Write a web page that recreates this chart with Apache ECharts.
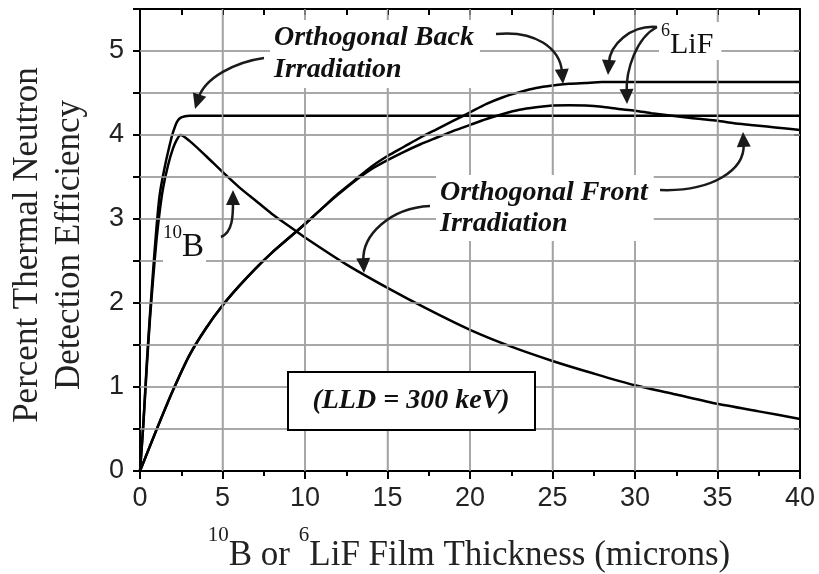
<!DOCTYPE html>
<html>
<head>
<meta charset="utf-8">
<script src="https://cdn.jsdelivr.net/npm/echarts@6/dist/echarts.min.js"></script>
<style>html,body{margin:0;padding:0;background:#fff}#c{width:819px;height:574px;background:#fff}</style>
</head>
<body>
<div id="c"></div>
<script>
// ---- data ----
const xTickLabels = [0, 5, 10, 15, 20, 25, 30, 35, 40];
const yTickLabels = [0, 1, 2, 3, 4, 5];
const xGridValues = [5, 10, 15, 20, 25, 30, 35];
const yGridValues = [0.5, 1, 1.5, 2, 2.5, 3, 3.5, 4, 4.5, 5];

// 10B, orthogonal back irradiation
const bBackX = [0, 0.2, 0.4, 0.6, 0.8, 1.0, 1.2, 1.5, 1.8, 2.0, 2.25, 2.5, 3, 5, 10, 20, 30, 40];
const bBackY = [0, 0.55, 1.25, 1.85, 2.4, 2.9, 3.3, 3.62, 3.88, 4.03, 4.16, 4.21, 4.23, 4.23, 4.23, 4.23, 4.23, 4.23];

// 10B, orthogonal front irradiation
const bFrontX = [0, 0.2, 0.4, 0.6, 0.8, 1.0, 1.2, 1.4, 1.7, 2.0, 2.25, 2.45, 3, 4, 5, 6, 7, 8, 9, 10, 12.5, 15, 17.5, 20, 22.5, 25, 27.5, 30, 32.5, 35, 37.5, 40];
const bFrontY = [0, 0.55, 1.2, 1.8, 2.3, 2.75, 3.1, 3.37, 3.64, 3.84, 3.95, 4.0, 3.93, 3.75, 3.56, 3.38, 3.22, 3.06, 2.92, 2.78, 2.46, 2.18, 1.92, 1.68, 1.48, 1.31, 1.16, 1.02, 0.91, 0.80, 0.71, 0.62];

// 6LiF, orthogonal back irradiation
const liBackX = [0, 1, 2, 3, 4, 5, 6, 7, 8, 9, 10, 11, 12, 13, 14, 15, 16, 17, 18, 19, 20, 21, 22, 23, 24, 25, 26, 27, 28, 29, 30, 35, 40];
const liBackY = [0, 0.49, 0.96, 1.38, 1.70, 1.97, 2.2, 2.41, 2.6, 2.77, 2.94, 3.12, 3.3, 3.46, 3.62, 3.75, 3.86, 3.97, 4.07, 4.17, 4.27, 4.37, 4.45, 4.51, 4.56, 4.59, 4.61, 4.62, 4.63, 4.63, 4.63, 4.63, 4.63];

// 6LiF, orthogonal front irradiation
const liFrontX = [0, 1, 2, 3, 4, 5, 6, 7, 8, 9, 10, 11, 12, 13, 14, 15, 16, 17, 18, 19, 20, 21, 22, 23, 24, 25, 26, 27, 28, 29, 30, 31, 32, 33, 34, 35, 36, 37, 38, 39, 40];
const liFrontY = [0, 0.49, 0.96, 1.38, 1.70, 1.97, 2.2, 2.41, 2.6, 2.77, 2.94, 3.12, 3.29, 3.45, 3.59, 3.7, 3.8, 3.89, 3.97, 4.05, 4.12, 4.19, 4.25, 4.3, 4.33, 4.35, 4.355, 4.35, 4.335, 4.31, 4.29, 4.26, 4.235, 4.21, 4.19, 4.17, 4.14, 4.12, 4.1, 4.08, 4.06];

const pairs = (xs, ys) => xs.map((x, i) => [x, ys[i]]);

// ---- chart ----
const chart = echarts.init(document.getElementById('c'));
const GRID = {left: 140, right: 19, top: 9, bottom: 103};
const X_MIN = 0, X_MAX = 40, Y_MIN = 0, Y_MAX = 5.5;
const gridGray = '#a3a3a3';
const ink = '#1a1a1a';
const serif = '"Liberation Serif", "DejaVu Serif", serif';
const sans = '"Liberation Sans", Arial, sans-serif';

function lineSeries(data) {
  return {
    type: 'line', data: data, showSymbol: false, symbol: 'none', smooth: 0.25,
    xAxisIndex: 0, yAxisIndex: 0,
    lineStyle: {color: '#000', width: 2.5}, silent: true, z: 3
  };
}

function arrow(p0, c1, c2, p3) {
  const dx = p3[0] - c2[0], dy = p3[1] - c2[1];
  const L = Math.hypot(dx, dy) || 1;
  const ux = dx / L, uy = dy / L;
  const hl = 15, hw = 7;
  const bx = p3[0] - ux * hl, by = p3[1] - uy * hl;
  return [
    {type: 'bezierCurve', z: 10, silent: true,
     shape: {x1: p0[0], y1: p0[1], cpx1: c1[0], cpy1: c1[1], cpx2: c2[0], cpy2: c2[1], x2: bx + ux * 3, y2: by + uy * 3},
     style: {stroke: ink, lineWidth: 2.5, fill: 'none'}},
    {type: 'polygon', z: 10, silent: true,
     shape: {points: [[p3[0], p3[1]], [bx - uy * hw, by + ux * hw], [bx + uy * hw, by - ux * hw]]},
     style: {fill: ink}}
  ];
}

const annFont = {fontFamily: serif, fontStyle: 'italic', fontWeight: 'bold', fontSize: 28};

const graphics = [
  {type: 'text', x: 49, y: 245, rotation: Math.PI / 2, z: 10, silent: true,
   style: {text: 'Percent Thermal Neutron\nDetection Efficiency', fontFamily: serif, fontSize: 35,
           fill: '#222', textAlign: 'center', textVerticalAlign: 'middle', lineHeight: 42}},
  {type: 'text', x: 469, y: 549, z: 10, silent: true,
   style: {text: '{s|10}{n|B or }{s|6}{n|LiF Film Thickness (microns)}', fill: '#222',
           textAlign: 'center', textVerticalAlign: 'middle',
           rich: {
             s: {fontFamily: serif, fontSize: 21, lineHeight: 21, verticalAlign: 'top', fill: '#222'},
             n: {fontFamily: serif, fontSize: 35, lineHeight: 48, verticalAlign: 'bottom', fill: '#222'}
           }}},
  {type: 'text', x: 270, y: 20, z: 9, silent: true,
   style: Object.assign({text: 'Orthogonal Back\nIrradiation', fill: '#111', lineHeight: 32,
           backgroundColor: '#fff', padding: [2, 6, 2, 4]}, annFont)},
  {type: 'text', x: 436, y: 175, z: 9, silent: true,
   style: Object.assign({text: 'Orthogonal Front\nIrradiation', fill: '#111', lineHeight: 31,
           backgroundColor: '#fff', padding: [2, 6, 2, 4]}, annFont)},
  {type: 'text', x: 659, y: 22, z: 9, silent: true,
   style: {text: '{s|6}{n|LiF}', backgroundColor: '#fff', padding: [0, 8, 0, 2],
           rich: {
             s: {fontFamily: serif, fontSize: 18, lineHeight: 18, verticalAlign: 'top', fill: '#111'},
             n: {fontFamily: serif, fontSize: 30, lineHeight: 38, verticalAlign: 'bottom', fill: '#111'}
           }}},
  {type: 'text', x: 163, y: 224, z: 9, silent: true,
   style: {text: '{s|10}{n|B}', backgroundColor: '#fff', padding: [0, 2, 0, 0],
           rich: {
             s: {fontFamily: serif, fontSize: 19, lineHeight: 19, verticalAlign: 'top', fill: '#111'},
             n: {fontFamily: serif, fontSize: 33, lineHeight: 40, verticalAlign: 'bottom', fill: '#111'}
           }}},
  {type: 'rect', z: 9, silent: true, shape: {x: 288, y: 372, width: 247, height: 58},
   style: {fill: '#fff', stroke: '#000', lineWidth: 2}},
  {type: 'text', x: 411, y: 401, z: 10, silent: true,
   style: Object.assign({text: '(LLD = 300 keV)', fill: '#111', textAlign: 'center', textVerticalAlign: 'middle'}, annFont)}
];

[].push.apply(graphics, arrow([264, 58], [235, 62], [205, 78], [195, 109]));
[].push.apply(graphics, arrow([496, 34], [535, 30], [560, 48], [563, 84]));
[].push.apply(graphics, arrow([657, 27], [630, 25], [610, 45], [608, 75]));
[].push.apply(graphics, arrow([657, 27], [636, 38], [626, 70], [627, 104]));
[].push.apply(graphics, arrow([221, 237], [233, 232], [233, 215], [233, 190]));
[].push.apply(graphics, arrow([430, 206], [390, 208], [362, 235], [364, 273]));
[].push.apply(graphics, arrow([660, 190], [712, 192], [745, 170], [743, 132]));

const option = {
  animation: false,
  grid: GRID,
  xAxis: [
    {type: 'value', min: X_MIN, max: X_MAX, interval: 5, position: 'bottom',
     axisLine: {show: true, onZero: false, lineStyle: {color: '#000', width: 2}},
     axisTick: {show: true, inside: false, length: 8, lineStyle: {color: '#000', width: 2}},
     minorTick: {show: true, splitNumber: 2, length: 5, lineStyle: {color: '#000', width: 2}},
     axisLabel: {show: true, margin: 14, fontFamily: sans, fontSize: 27, color: '#222',
                 formatter: v => (xTickLabels.indexOf(v) >= 0 ? String(v) : '')},
     splitLine: {show: true, lineStyle: {color: gridGray, width: 1.5}}},
    {type: 'value', min: X_MIN, max: X_MAX, interval: 2.5, position: 'top',
     axisLine: {show: true, onZero: false, lineStyle: {color: '#000', width: 2}},
     axisTick: {show: true, inside: true, length: 6, lineStyle: {color: '#000', width: 2}},
     axisLabel: {show: false}, splitLine: {show: false}}
  ],
  yAxis: [
    {type: 'value', min: Y_MIN, max: Y_MAX, interval: 0.5, position: 'left',
     axisLine: {show: true, onZero: false, lineStyle: {color: '#000', width: 2}},
     axisTick: {show: true, inside: false, length: 7, lineStyle: {color: '#000', width: 2}},
     axisLabel: {show: true, margin: 16, fontFamily: sans, fontSize: 27, color: '#222',
                 formatter: v => (yTickLabels.indexOf(v) >= 0 ? String(v) : '')},
     splitLine: {show: true, lineStyle: {color: gridGray, width: 1.5}}},
    {type: 'value', min: Y_MIN, max: Y_MAX, interval: 0.5, position: 'right',
     axisLine: {show: true, onZero: false, lineStyle: {color: '#000', width: 2}},
     axisTick: {show: true, inside: true, length: 6, lineStyle: {color: '#000', width: 2}},
     axisLabel: {show: false}, splitLine: {show: false}}
  ],
  series: [
    lineSeries(pairs(bBackX, bBackY)),
    lineSeries(pairs(bFrontX, bFrontY)),
    lineSeries(pairs(liBackX, liBackY)),
    lineSeries(pairs(liFrontX, liFrontY))
  ]
};
chart.setOption(option);

// grid lines placed through the axes' own scales (convertToPixel)
const finder = {xAxisIndex: 0, yAxisIndex: 0};
const gridLines = [];
xGridValues.forEach(v => {
  const a = chart.convertToPixel(finder, [v, Y_MIN]);
  const b = chart.convertToPixel(finder, [v, Y_MAX]);
  gridLines.push({type: 'line', z: 8, silent: true, subPixelOptimize: true,
    shape: {x1: a[0], y1: a[1], x2: b[0], y2: b[1]}, style: {stroke: gridGray, lineWidth: 1.5}});
});
yGridValues.forEach(v => {
  const a = chart.convertToPixel(finder, [X_MIN, v]);
  const b = chart.convertToPixel(finder, [X_MAX, v]);
  gridLines.push({type: 'line', z: 8, silent: true, subPixelOptimize: true,
    shape: {x1: a[0], y1: a[1], x2: b[0], y2: b[1]}, style: {stroke: gridGray, lineWidth: 1.5}});
});

chart.setOption({graphic: {elements: gridLines.concat(graphics)}});
</script>
</body>
</html>
